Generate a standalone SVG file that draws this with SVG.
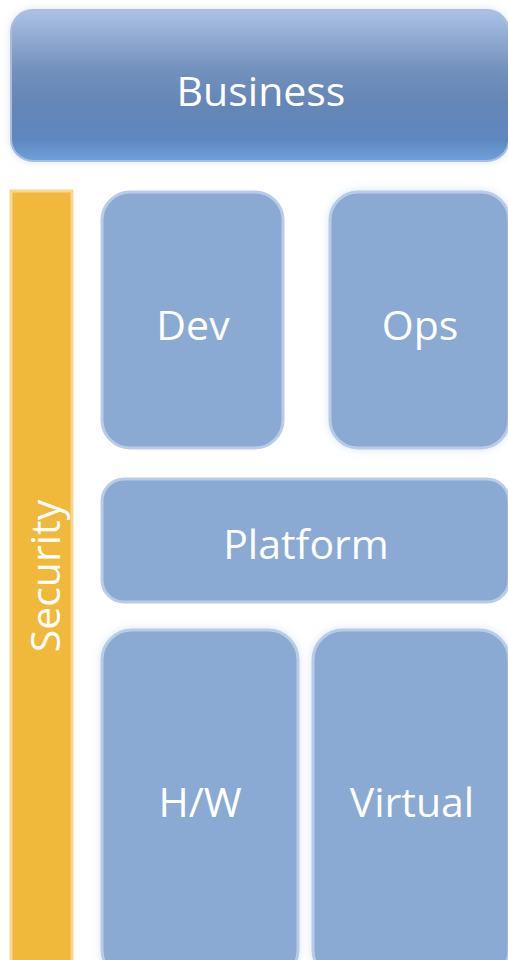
<svg xmlns="http://www.w3.org/2000/svg" width="508" height="960" viewBox="0 0 508 960">
<defs>
<linearGradient id="bizGrad" x1="0" y1="0" x2="0" y2="1">
<stop offset="0" stop-color="#AAC2E6"/>
<stop offset="0.18" stop-color="#93ABD3"/>
<stop offset="0.4" stop-color="#7190BC"/>
<stop offset="0.62" stop-color="#6586B7"/>
<stop offset="0.86" stop-color="#5E88C0"/>
<stop offset="1" stop-color="#71A0DC"/>
</linearGradient>
<filter id="glow" x="-10%" y="-10%" width="120%" height="120%">
<feGaussianBlur in="SourceAlpha" stdDeviation="4" result="b"/>
<feFlood flood-color="#C9D8F2" flood-opacity="0.7"/>
<feComposite in2="b" operator="in" result="g"/>
<feMerge><feMergeNode in="g"/><feMergeNode in="SourceGraphic"/></feMerge>
</filter>
</defs>
<style>
.box{fill:#8AAAD3;stroke:#B9CCE7;stroke-width:3}
.lbl{font-family:"Open Sans","Noto Sans",sans-serif;fill:#FFFFFF;text-anchor:middle;font-size:41px}
</style>
<rect width="508" height="960" fill="#FFFFFF"/>
<g id="business">
<rect x="11" y="10" width="498" height="151" rx="22" fill="url(#bizGrad)" stroke="#A9BEDF" stroke-width="2" filter="url(#glow)"/>
<text class="lbl" x="261" y="106">Business</text>
</g>
<g id="security">
<rect x="11" y="191" width="61" height="780" fill="#F0B93B" stroke="#F9D592" stroke-width="3"/>
<text class="lbl" transform="translate(60,576) rotate(-90)" x="0" y="0">Security</text>
</g>
<g id="dev">
<rect class="box" x="102" y="192" width="181" height="256" rx="28"/>
<text class="lbl" x="193" y="340">Dev</text>
</g>
<g id="ops">
<rect class="box" x="330" y="192" width="179" height="256" rx="28" filter="url(#glow)"/>
<text class="lbl" x="420" y="340">Ops</text>
</g>
<g id="platform">
<rect class="box" x="102" y="479" width="407" height="123" rx="22"/>
<text class="lbl" x="306" y="559">Platform</text>
</g>
<g id="hw">
<rect class="box" x="102" y="630" width="196" height="350" rx="30" filter="url(#glow)"/>
<text class="lbl" x="200" y="817">H/W</text>
</g>
<g id="virtual">
<rect class="box" x="313" y="630" width="196" height="350" rx="30" filter="url(#glow)"/>
<text class="lbl" x="412" y="817">Virtual</text>
</g>
<g id="connectors"/>
</svg>
